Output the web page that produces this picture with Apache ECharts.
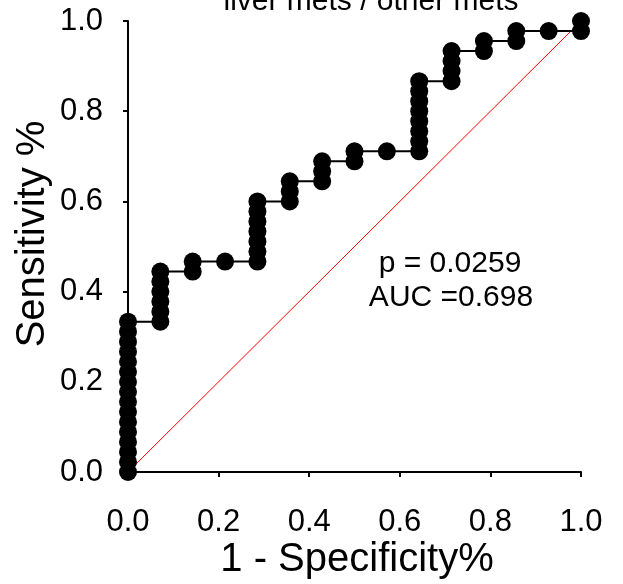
<!DOCTYPE html>
<html>
<head>
<meta charset="utf-8">
<script src="https://cdn.jsdelivr.net/npm/echarts@6/dist/echarts.min.js"></script>
<style>html,body{margin:0;padding:0;background:#fff}#c{width:623px;height:584px}</style>
</head>
<body>
<div id="c"></div>
<script>
const nControls = 14;
const nCases = 45;
const fprCount = [0,0,0,0,0,0,0,0,0,0,0,0,0,0,0,0,
  1,1,1,1,1,1,
  2,2,
  3,
  4,4,4,4,4,4,4,
  5,5,5,
  6,6,6,
  7,7,
  8,
  9,9,9,9,9,9,9,9,
  10,10,10,10,
  11,11,
  12,12,
  13,
  14,14];
const tprCount = [0,1,2,3,4,5,6,7,8,9,10,11,12,13,14,15,
  15,16,17,18,19,20,
  20,21,
  21,
  21,22,23,24,25,26,27,
  27,28,29,
  29,30,31,
  31,32,
  32,
  32,33,34,35,36,37,38,39,
  39,40,41,42,
  42,43,
  43,44,
  44,
  44,45];
const diagX = [0, 1];
const diagY = [0, 1];
const tickLabels = ['0.0','0.2','0.4','0.6','0.8','1.0'];
const titleText = 'liver mets / other mets';
const xTitle = '1 - Specificity%';
const yTitle = 'Sensitivity %';
const pText = 'p = 0.0259';
const aucText = 'AUC =0.698';

const rocData = fprCount.map((c, i) => [c / nControls, tprCount[i] / nCases]);
const diagData = diagX.map((x, i) => [x, diagY[i]]);
const FONT = '"Liberation Sans", Arial, sans-serif';

const chart = echarts.init(document.getElementById('c'), null, {renderer: 'canvas'});
const fmt = v => tickLabels[Math.round(v * 5)];
chart.setOption({
  animation: false,
  backgroundColor: '#fff',
  grid: {left: 128, right: 42, top: 21, bottom: 112, containLabel: false},
  xAxis: {
    type: 'value', min: 0, max: 1, interval: 0.2,
    splitLine: {show: false},
    axisLine: {show: true, onZero: false, lineStyle: {color: '#000', width: 2}},
    axisTick: {show: true, inside: false, length: 5, lineStyle: {color: '#000', width: 2}},
    axisLabel: {color: '#000', fontSize: 31, fontFamily: FONT, margin: 35, formatter: fmt}
  },
  yAxis: {
    type: 'value', min: 0, max: 1, interval: 0.2,
    splitLine: {show: false},
    axisLine: {show: true, onZero: false, lineStyle: {color: '#000', width: 2}},
    axisTick: {show: true, inside: false, length: 5, lineStyle: {color: '#000', width: 2}},
    axisLabel: {color: '#000', fontSize: 31, fontFamily: FONT, margin: 25, formatter: fmt}
  },
  series: [
    {
      type: 'line', data: diagData, symbol: 'none', clip: false, z: 1,
      lineStyle: {color: '#ff0000', width: 1}
    },
    {
      type: 'line', data: rocData, symbol: 'circle', symbolSize: 18, clip: false, z: 2,
      itemStyle: {color: '#000'},
      lineStyle: {color: '#000', width: 2}
    }
  ],
  graphic: [
    {type: 'text', x: 371, y: 2, style: {text: titleText, font: '30px ' + FONT, fill: '#000', align: 'center', verticalAlign: 'middle'}},
    {type: 'text', x: 357, y: 560, style: {text: xTitle, font: '40px ' + FONT, fill: '#000', align: 'center', verticalAlign: 'middle'}},
    {type: 'text', x: 33, y: 234, rotation: Math.PI / 2, style: {text: yTitle, font: '40px ' + FONT, fill: '#000', align: 'center', verticalAlign: 'middle'}},
    {type: 'text', x: 450, y: 264, style: {text: pText, font: '30px ' + FONT, fill: '#000', align: 'center', verticalAlign: 'middle'}},
    {type: 'text', x: 451, y: 298, style: {text: aucText, font: '30px ' + FONT, fill: '#000', align: 'center', verticalAlign: 'middle'}}
  ]
});
</script>
</body>
</html>
